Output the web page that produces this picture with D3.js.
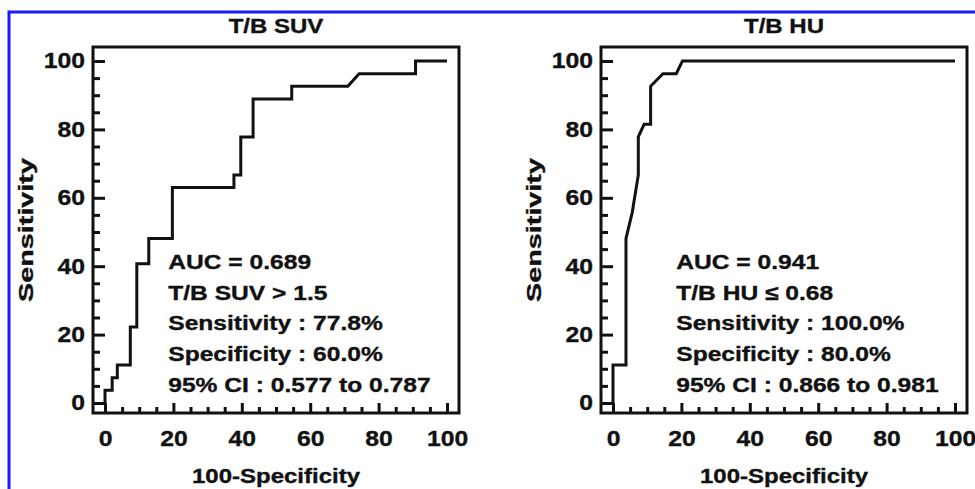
<!DOCTYPE html>
<html>
<head>
<meta charset="utf-8">
<script src="https://cdn.jsdelivr.net/npm/d3@7"></script>
<style>
  body { margin: 0; background: #fff; }
  text { font-family: "Liberation Sans", Arial, sans-serif; font-weight: bold; fill: #111; stroke: #111; stroke-width: 0.35; }
</style>
</head>
<body>
<svg id="chart" width="975" height="489"></svg>
<script>
// ROC curves: [100-Specificity, Sensitivity]
const suvCurve = [
  [0, 0], [0, 3.7], [2.1, 3.7], [2.1, 7.4], [3.6, 7.4], [3.6, 11.1],
  [7.4, 11.1], [7.4, 22.2], [9.3, 22.2], [9.3, 40.7], [12.8, 40.7],
  [12.8, 48.1], [19.7, 48.1], [19.7, 63.0], [37.7, 63.0], [37.7, 66.7],
  [39.7, 66.7], [39.7, 77.8], [43.3, 77.8], [43.3, 88.9], [54.6, 88.9],
  [54.6, 92.6], [71.0, 92.6], [74.3, 96.3], [90.8, 96.3], [90.8, 100],
  [100, 100],
];
const huCurve = [
  [0, 0], [0, 11.1], [3.8, 11.1], [3.8, 48.1], [5.6, 55.6], [7.4, 66.7],
  [7.4, 77.8], [9.1, 81.5], [11.0, 81.5], [11.0, 92.6], [14.6, 96.3],
  [18.5, 96.3], [20.3, 100], [100, 100],
];

const titles = ["T/B SUV", "T/B HU"];
const suvNotes = [
  "AUC = 0.689",
  "T/B SUV > 1.5",
  "Sensitivity : 77.8%",
  "Specificity : 60.0%",
  "95% CI : 0.577 to 0.787",
];
const huNotes = [
  "AUC = 0.941",
  "T/B HU \u2264 0.68",
  "Sensitivity : 100.0%",
  "Specificity : 80.0%",
  "95% CI : 0.866 to 0.981",
];
const majorTicks = [0, 20, 40, 60, 80, 100];
const minorTicks = d3.range(0, 101, 5).filter((v) => v % 20 !== 0);

const FRAME_TOP = 47;
const FRAME_SIZE = 366;
const STRETCH = 1.2;

function stretchedText(g, x, y, str, size, anchor = "start", rotate = 0, stretch = STRETCH) {
  return g
    .append("text")
    .attr("transform", `translate(${x},${y}) rotate(${rotate}) scale(${stretch},1)`)
    .attr("font-size", size)
    .attr("text-anchor", anchor)
    .text(str);
}

function drawPanel(svg, frameX, title, curve, notes) {
  const x = d3.scaleLinear([0, 100], [frameX + 12, frameX + FRAME_SIZE - 12]);
  const y = d3.scaleLinear([0, 100], [FRAME_TOP + FRAME_SIZE - 10, FRAME_TOP + 14]);
  const g = svg.append("g");
  const bottom = FRAME_TOP + FRAME_SIZE;

  // major + minor ticks, pointing inward
  const axes = [
    [d3.axisLeft(y).tickValues(majorTicks).tickSize(-12).tickPadding(7), `translate(${frameX},0)`],
    [d3.axisLeft(y).tickValues(minorTicks).tickSize(-7).tickFormat(""), `translate(${frameX},0)`],
    [d3.axisBottom(x).tickValues(majorTicks).tickSize(-10).tickPadding(18), `translate(0,${bottom})`],
    [d3.axisBottom(x).tickValues(minorTicks).tickSize(-6).tickFormat(""), `translate(0,${bottom})`],
  ];
  axes.forEach(([axis, tr]) => {
    const a = g.append("g").attr("transform", tr).call(axis);
    a.select(".domain").remove();
    a.selectAll("line").attr("stroke", "#111").attr("stroke-width", 3);
    a.selectAll("text")
      .attr("font-size", 21.5)
      .attr("fill", "#111")
      .attr("font-family", "Liberation Sans, Arial, sans-serif")
      .attr("transform", "scale(1.15,1)");
  });

  g.append("rect")
    .attr("x", frameX)
    .attr("y", FRAME_TOP)
    .attr("width", FRAME_SIZE)
    .attr("height", FRAME_SIZE)
    .attr("fill", "none")
    .attr("stroke", "#111")
    .attr("stroke-width", 3);

  g.append("path")
    .datum(curve)
    .attr("fill", "none")
    .attr("stroke", "#111")
    .attr("stroke-width", 3)
    .attr("stroke-linejoin", "miter")
    .attr("d", d3.line().x((d) => x(d[0])).y((d) => y(d[1])));

  const cx = frameX + FRAME_SIZE / 2;
  stretchedText(g, cx, 33, title, 20, "middle");
  stretchedText(g, cx, 483, "100-Specificity", 20, "middle");
  stretchedText(g, frameX - 60, 230, "Sensitivity", 21, "middle", -90, 1.37);

  notes.forEach((n, i) => {
    stretchedText(g, x(18.5), 269 + i * 30.7, n, 20.5);
  });
}

const svg = d3.select("#chart");
drawPanel(svg, 93, titles[0], suvCurve, suvNotes);
drawPanel(svg, 601, titles[1], huCurve, huNotes);

// blue page border
svg.append("path")
  .attr("d", "M9,489V12H975")
  .attr("fill", "none")
  .attr("stroke", "#1a1aff")
  .attr("stroke-width", 3);
</script>
</body>
</html>
